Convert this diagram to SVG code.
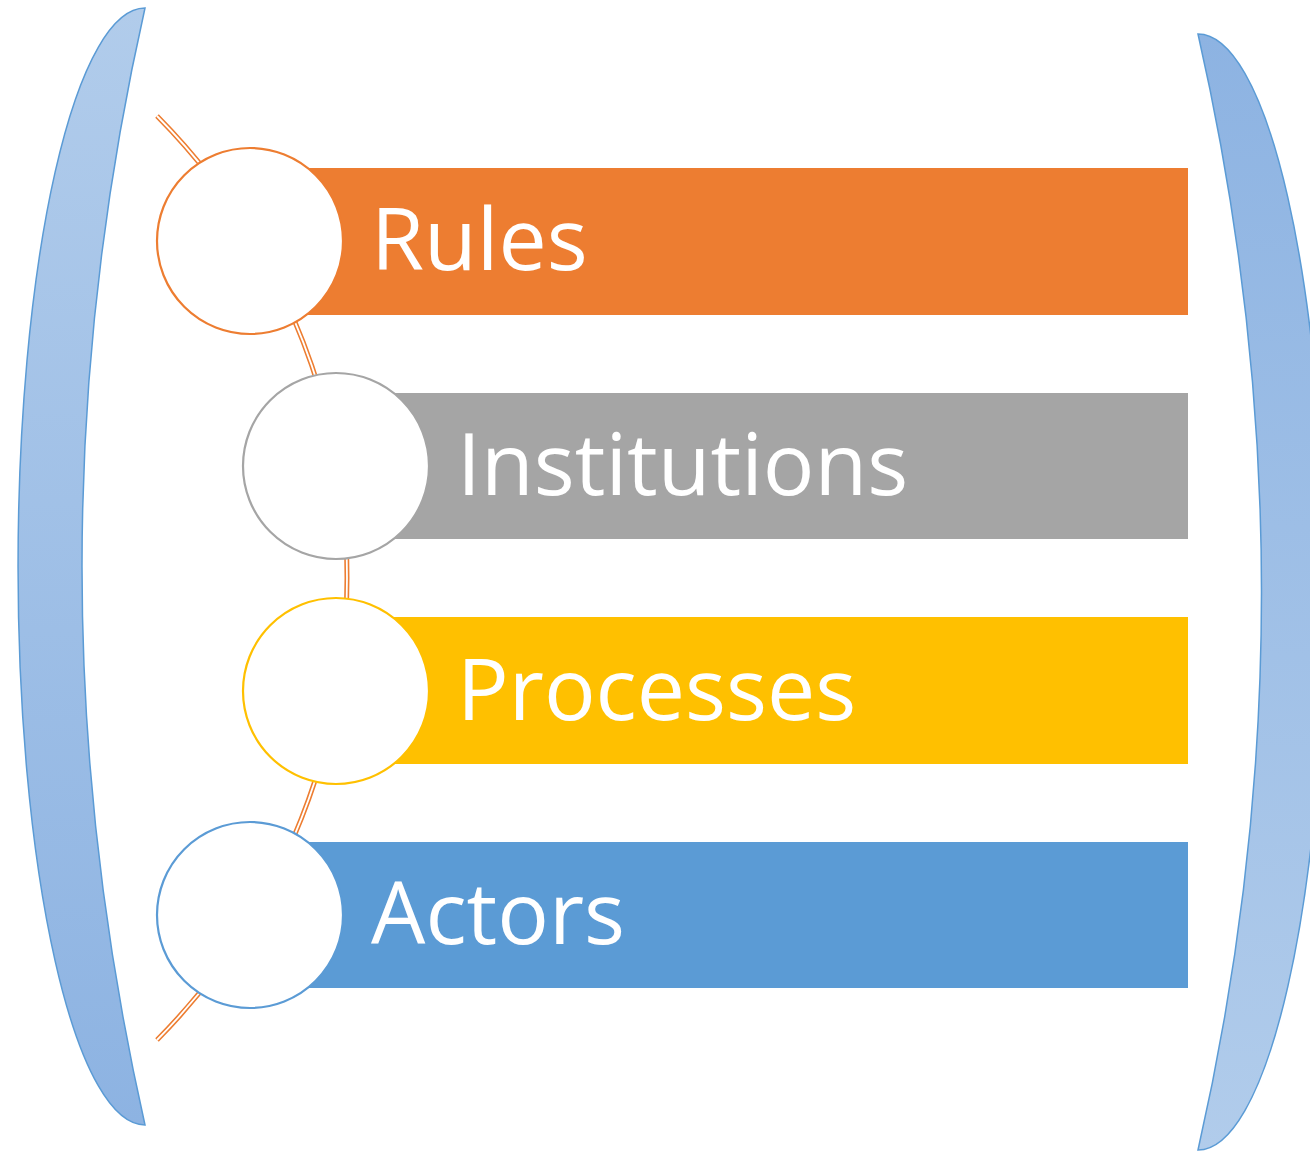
<svg xmlns="http://www.w3.org/2000/svg" width="1310" height="1151" viewBox="0 0 1310 1151">
<defs>
<linearGradient id="gL" x1="0" y1="0" x2="0" y2="1"><stop offset="0" stop-color="#b1cceb"/><stop offset="1" stop-color="#8db3e2"/></linearGradient>
<linearGradient id="gR" x1="0" y1="0" x2="0" y2="1"><stop offset="0" stop-color="#8db3e2"/><stop offset="1" stop-color="#b1cceb"/></linearGradient>
<style>
.br{stroke:#5b9bd5;stroke-width:1.5}
.lbl{font-family:"Open Sans","Liberation Sans",sans-serif;font-size:86px;fill:#ffffff}
.c{fill:#ffffff;stroke-width:2.2}
</style>
</defs>
<rect width="1310" height="1151" fill="#ffffff"/>
<g id="bracket-left">
<path class="br" fill="url(#gL)" d="M145,8 A127,558.5 0 0 0 145,1125 Q19,566.5 145,8 Z"/>
</g>
<g id="bracket-right">
<path class="br" fill="url(#gR)" d="M1198,34 A127,558 0 0 1 1198,1150 Q1325,592 1198,34 Z"/>
</g>
<g id="connectors">
<path d="M157,116 A656.7,656.7 0 0 1 157,1040" fill="none" stroke="#ed7d31" stroke-width="5"/>
<path d="M157,116 A656.7,656.7 0 0 1 157,1040" fill="none" stroke="#ffffff" stroke-width="1.8"/>
</g>
<g id="node-rules">
<rect x="250" y="168" width="938" height="147" fill="#ed7d31"/>
<circle class="c" cx="250" cy="241" r="93" stroke="#ed7d31"/>
<text class="lbl" x="371" y="270">Rules</text>
</g>
<g id="node-institutions">
<rect x="336" y="393" width="852" height="146" fill="#a5a5a5"/>
<circle class="c" cx="336" cy="466" r="93" stroke="#a5a5a5"/>
<text class="lbl" x="457" y="495">Institutions</text>
</g>
<g id="node-processes">
<rect x="336" y="617" width="852" height="147" fill="#ffc000"/>
<circle class="c" cx="336" cy="691" r="93" stroke="#ffc000"/>
<text class="lbl" x="457" y="720">Processes</text>
</g>
<g id="node-actors">
<rect x="250" y="842" width="938" height="146" fill="#5b9bd5"/>
<circle class="c" cx="250" cy="915" r="93" stroke="#5b9bd5"/>
<text class="lbl" x="371" y="944">Actors</text>
</g>
</svg>
